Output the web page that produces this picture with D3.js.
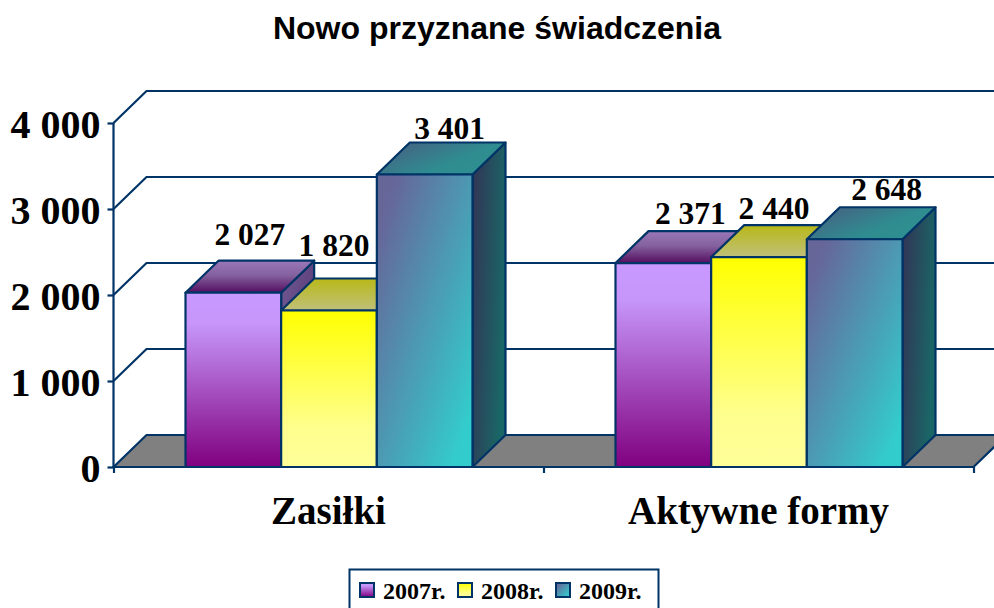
<!DOCTYPE html>
<html><head><meta charset="utf-8">
<script src="https://cdn.jsdelivr.net/npm/d3@7"></script>
<style>html,body{margin:0;padding:0;background:#fff;overflow:hidden}svg{display:block}</style>
</head><body><svg id="c" width="994" height="608"></svg>
<script>
const categories = ["Zasiłki", "Aktywne formy"];
const seriesNames = ["2007r.", "2008r.", "2009r."];
const values2007 = [2027, 2371];
const values2008 = [1820, 2440];
const values2009 = [3401, 2648];
const yTicks = [0, 1000, 2000, 3000, 4000];
const titleText = "Nowo przyznane świadczenia";
// label nudges [dx, dy from back top edge], hand placed in the original
const labelNudge = [[[16.5,-16],[5,-22],[25,-4]],[[27,-7],[15,-6],[32,-7]]];

const allSeries = [values2007, values2008, values2009];
const navy = "#003366";
const DX = 33, DY = -32;
const svg = d3.select("#c");
const defs = svg.append("defs");
function grad(id, pts, stops){
  const g = defs.append("linearGradient").attr("id", id)
    .attr("x1",pts[0]).attr("y1",pts[1]).attr("x2",pts[2]).attr("y2",pts[3]);
  stops.forEach(s=>g.append("stop").attr("offset",s[0]).attr("stop-color",s[1]));
}
const V=[0,0,0,1], D=[0,0,1,1];
grad("f0",V,[[0,"#c899ff"],[.18,"#c696fa"],[1,"#800080"]]);
grad("t0",V,[[0,"#9a78b8"],[.45,"#84629f"],[1,"#560e60"]]);
grad("s0",D,[[0,"#705890"],[1,"#503070"]]);
grad("f1",V,[[0,"#ffff00"],[.75,"#ffff8e"],[1,"#ffff99"]]);
grad("t1",V,[[0,"#b8b818"],[1,"#c0c07a"]]);
grad("s1",D,[[0,"#99991a"],[1,"#88882a"]]);
grad("f2",D,[[0.1,"#666699"],[.9,"#33cccc"]]);
grad("t2",[0,0,1,.6],[[0,"#4a5a80"],[.7,"#2f8c90"],[1,"#2f9090"]]);
grad("s2",[0,0,1,.35],[[0,"#333355"],[1,"#1a6666"]]);

const y = d3.scaleLinear().domain([0,4000]).range([467,123]);
const x0 = d3.scaleBand().domain(categories).range([113.5,973.5]);
const x1 = d3.scaleBand().domain(seriesNames).range([72,359]);
const fmt = v => d3.format(",")(v).replace(",", " ");
const serif = "'Liberation Serif',serif";

// walls and floor
const back = svg.append("g").attr("fill","none").attr("stroke",navy).attr("stroke-width",2.2);
back.append("path").attr("fill","#808080")
  .attr("d",`M${x0.range()[0]},${y(0)}l${DX},${DY}H${x0.range()[1]+DX}l${-DX},${-DY}Z`);
yTicks.slice(1).forEach(t=>{
  back.append("path").attr("d",`M${x0.range()[0]},${y(t)}l${DX},${DY}H${x0.range()[1]+DX}`);
});

// bars
const barsG = svg.append("g").attr("stroke",navy).attr("stroke-width",2.2).attr("stroke-linejoin","round");
categories.forEach((c,ci)=>{
  seriesNames.forEach((s,si)=>{
    const v = allSeries[si][ci];
    const l = x0(c)+x1(s), w = x1.bandwidth(), r = l+w, t = y(v), b = y(0);
    barsG.append("path").attr("fill",`url(#s${si})`)
      .attr("d",`M${r},${b}l${DX},${DY}V${t+DY}l${-DX},${-DY}Z`);
    barsG.append("path").attr("fill",`url(#t${si})`)
      .attr("d",`M${l},${t}l${DX},${DY}H${r+DX}l${-DX},${-DY}Z`);
    barsG.append("rect").attr("x",l).attr("y",t).attr("width",w).attr("height",b-t).attr("fill",`url(#f${si})`);
  });
});

// axes
const axL = svg.append("g").attr("transform",`translate(${x0.range()[0]},0)`)
  .call(d3.axisLeft(y).tickValues(yTicks).tickFormat(fmt).tickSize(6).tickPadding(7));
const axB = svg.append("g").attr("transform",`translate(0,${y(0)})`)
  .call(d3.axisBottom(d3.scaleLinear().domain([0,2]).range(x0.range())).tickValues([0,1,2]).tickSize(6).tickFormat(""));
[axL,axB].forEach(a=>{
  a.selectAll("path,line").attr("stroke",navy).attr("stroke-width",2.2);
});
axL.select(".domain").attr("d",`M0,${y(4000)}V${y(0)}`);
axB.select(".domain").attr("d",`M${x0.range()[0]},0H${x0.range()[1]}`);
axL.selectAll("text").attr("font-family",serif).attr("font-weight","bold").attr("font-size",40).attr("fill","#000").attr("y",2);

// category labels
svg.append("g").selectAll("text").data(categories).join("text")
  .attr("x",d=>x0(d)+x0.bandwidth()/2).attr("y",524).attr("text-anchor","middle")
  .attr("font-family",serif).attr("font-weight","bold").attr("font-size",39).text(d=>d);

// value labels
const lab = svg.append("g").attr("font-family",serif).attr("font-weight","bold").attr("font-size",31.5).attr("text-anchor","middle");
categories.forEach((c,ci)=>{
  seriesNames.forEach((s,si)=>{
    const v = allSeries[si][ci], n = labelNudge[ci][si];
    lab.append("text").attr("x",x0(c)+x1(s)+x1.bandwidth()/2+n[0]).attr("y",y(v)+DY+n[1]).text(fmt(v));
  });
});

// title
svg.append("text").attr("x",497).attr("y",39).attr("text-anchor","middle")
  .attr("font-family","'Liberation Sans',Arial,sans-serif").attr("font-weight","bold").attr("font-size",32).text(titleText);

// legend
const leg = svg.append("g");
leg.append("rect").attr("x",349.5).attr("y",569.5).attr("width",309).attr("height",50)
  .attr("fill","#fff").attr("stroke",navy).attr("stroke-width",2);
seriesNames.forEach((s,i)=>{
  const g = leg.append("g").attr("transform",`translate(${359+i*98},0)`);
  g.append("rect").attr("x",1).attr("y",583).attr("width",14).attr("height",14)
    .attr("fill",`url(#f${i})`).attr("stroke",navy).attr("stroke-width",2);
  g.append("text").attr("x",24).attr("y",599).attr("font-family",serif).attr("font-weight","bold").attr("font-size",24).text(s);
});
</script></body></html>
